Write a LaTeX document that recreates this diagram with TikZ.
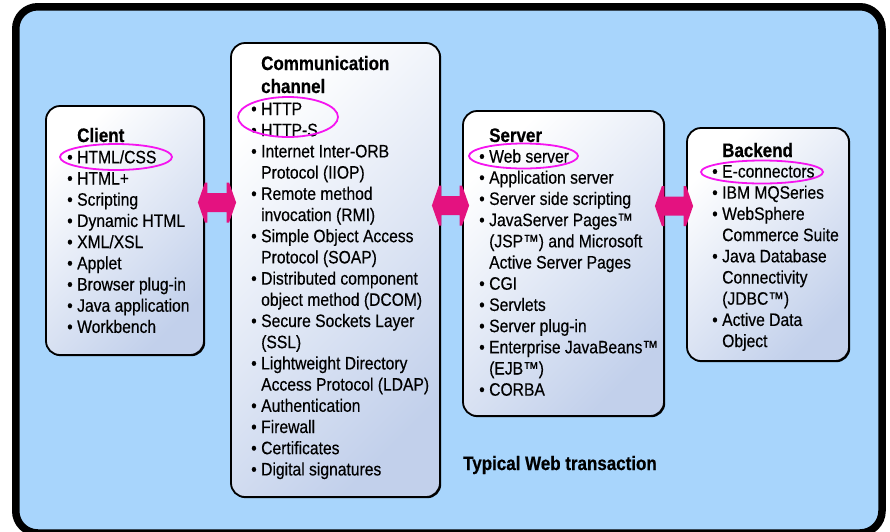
\documentclass[tikz,border=0pt]{standalone}
\usepackage{fontspec}
\setmainfont{Liberation Sans}[FakeStretch=0.87,
  UprightFeatures={FakeBold=0.4}, BoldFeatures={FakeBold=0.6}]
\usetikzlibrary{calc,shadows}

\definecolor{panelblue}{RGB}{168,213,252}
\definecolor{boxend}{RGB}{194,208,235}
\definecolor{linkpink}{RGB}{228,18,128}
\definecolor{ringmag}{RGB}{245,20,240}

% hanging bullet in front of a list entry
\newcommand\bul{\llap{\textbullet\hspace{4.5pt}}}

% fat two-headed link between two end points
\newcommand\linkarrow[2]{%
  \fill[linkpink] let \p1=(#1), \p2=(#2) in
    (\x1,\y1) -- ++(7pt,20pt) -- ++(2.5pt,0pt) -- ++(0pt,-10.5pt)
    -- (\x2-9.5pt,\y2+9.5pt) -- ++(0pt,10.5pt) -- ++(2.5pt,0pt)
    -- (\x2,\y2) -- ++(-7pt,-20pt) -- ++(-2.5pt,0pt) -- ++(0pt,10.5pt)
    -- (\x1+9.5pt,\y1-9.5pt) -- ++(0pt,-10.5pt) -- ++(-2.5pt,0pt) -- cycle;}

\begin{document}
\begin{tikzpicture}[x=1pt,y=-1pt,
  box/.style={draw=black, line width=1.8pt, rounded corners=14pt,
    top color=white, bottom color=boxend, shading angle=45,
    drop shadow={shadow xshift=1.2pt, shadow yshift=-1.2pt, fill=black, opacity=1},
    inner sep=0pt},
  item/.style={anchor=base west, inner sep=0pt, font=\fontsize{18}{21}\selectfont},
  head/.style={anchor=base west, inner sep=0pt, font=\fontsize{19.5}{23}\selectfont\bfseries},
  ring/.style={draw=ringmag, line width=1.8pt},
]
\path[use as bounding box] (0,0) rectangle (890,531);

% outer panel
\draw[line width=7.5pt, fill=panelblue, rounded corners=22pt] (15.75,6.75) rectangle (882,533);

% the four tiers
\node[box, minimum width=158pt, minimum height=249pt] (client) at (125,230.5) {};
\node[box, minimum width=209pt, minimum height=454pt] (comm) at (335.5,270) {};
\node[box, minimum width=201pt, minimum height=305pt] (server) at (563.5,263.5) {};
\node[box, minimum width=162pt, minimum height=233pt] (backend) at (768,244.5) {};

% links between neighbouring tiers
\coordinate (ya) at (0,202.5);
\coordinate (yb) at (0,205.5);
\coordinate (yc) at (0,206);
\linkarrow{$(client.east|-ya)+(-7,0)$}{$(comm.west|-ya)+(6,0)$}
\linkarrow{$(comm.east|-yb)+(-9,0)$}{$(server.west|-yb)+(7,0)$}
\linkarrow{$(server.east|-yc)+(-10,0)$}{$(backend.west|-yc)+(7,0)$}

% client
\node[head] (clienthead) at (77,142) {Client};
\foreach \t [count=\i from 0] in {\bul HTML/CSS,\bul HTML+,\bul Scripting,
  \bul Dynamic HTML,\bul XML/XSL,\bul Applet,\bul Browser plug-in,
  \bul Java application,\bul Workbench}
  \node[item] (cl-\i) at (77,163.3+21.2*\i) {\t};

% communication channel
\node[head] (commhead1) at (261,70) {Communication};
\node[head] (commhead2) at (261,93) {channel};
\foreach \t [count=\i from 0] in {\bul HTTP,\bul HTTP-S,\bul Internet Inter-ORB,
  Protocol (IIOP),\bul Remote method,invocation (RMI),\bul Simple Object Access,
  Protocol (SOAP),\bul Distributed component,object method (DCOM),
  \bul Secure Sockets Layer,(SSL),\bul Lightweight Directory,
  Access Protocol (LDAP),\bul Authentication,\bul Firewall,\bul Certificates,
  \bul Digital signatures}
  \node[item] (cc-\i) at (261,115+21.2*\i) {\t};

% server
\node[head] (serverhead) at (489,142) {Server};
\foreach \t [count=\i from 0] in {\bul Web server,\bul Application server,
  \bul Server side scripting,\bul JavaServer Pages™,(JSP™) and Microsoft,
  Active Server Pages,\bul CGI,\bul Servlets,\bul Server plug-in,
  \bul Enterprise JavaBeans™,(EJB™),\bul CORBA}
  \node[item] (sv-\i) at (489,162.5+21.2*\i) {\t};

% backend
\node[head] (backendhead) at (722,157) {Backend};
\foreach \t [count=\i from 0] in {\bul E-connectors,\bul IBM MQSeries,
  \bul WebSphere,Commerce Suite,\bul Java Database,Connectivity,(JDBC™),
  \bul Active Data,Object}
  \node[item] (be-\i) at (722,177.5+21.2*\i) {\t};

\node[head] (caption) at (463,470) {Typical Web transaction};

% highlighted entries
\draw[ring] (116,157) ellipse (56pt and 13pt);
\draw[ring] (288,117) ellipse (50pt and 20pt);
\draw[ring] (523.5,156) ellipse (54.5pt and 12.5pt);
\draw[ring] (762,172) ellipse (61pt and 11.5pt);
\end{tikzpicture}
\end{document}
